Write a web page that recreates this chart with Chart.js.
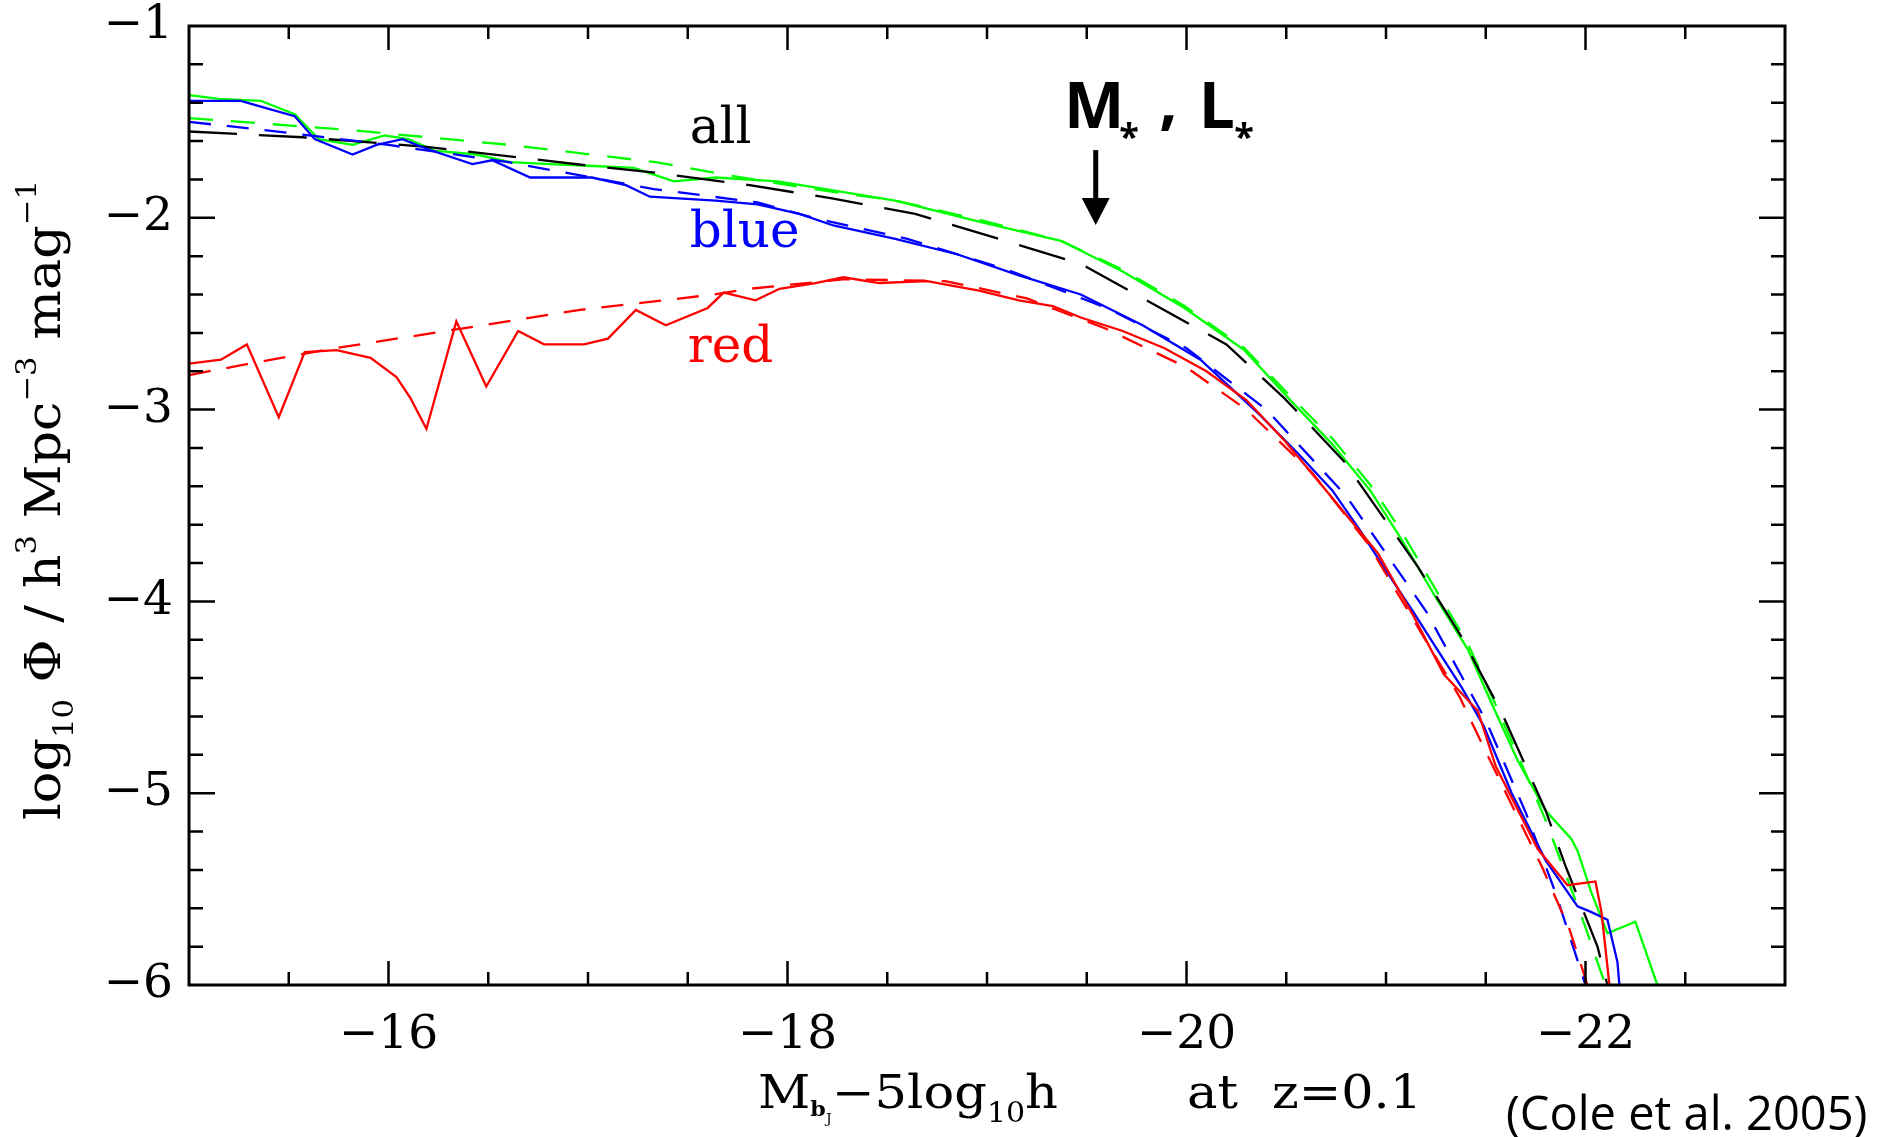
<!DOCTYPE html>
<html>
<head>
<meta charset="utf-8">
<script src="https://cdn.jsdelivr.net/npm/chart.js@4.4.1/dist/chart.umd.min.js"></script>
<style>
html,body{margin:0;padding:0;background:#fff;overflow:hidden;}
#wrap{width:1892px;height:1137px;position:relative;}
</style>
</head>
<body>
<div id="wrap"><canvas id="c"></canvas></div>
<script>
// ---------------- data ----------------
// "all" galaxies: measured LF (green solid)
const allDataX = [-15.00,-15.15,-15.36,-15.53,-15.65,-15.82,-15.98,-16.10,-16.23,-16.44,-16.61,-16.81,-17.03,-17.23,-17.43,-17.64,-17.95,-18.13,-18.54,-18.96,-19.37,-19.68,-19.99,-20.29,-20.52,-20.73,-20.92,-21.08,-21.25,-21.41,-21.52,-21.66,-21.80,-21.93,-21.96,-22.03,-22.11,-22.25,-22.36];
const allDataY = [-1.36,-1.38,-1.39,-1.46,-1.59,-1.62,-1.57,-1.59,-1.65,-1.67,-1.71,-1.72,-1.73,-1.74,-1.81,-1.79,-1.81,-1.84,-1.91,-2.02,-2.12,-2.28,-2.47,-2.69,-2.95,-3.18,-3.42,-3.68,-3.98,-4.25,-4.51,-4.83,-5.09,-5.24,-5.30,-5.52,-5.73,-5.67,-6.00];
// "all" galaxies: second estimate (green dashed)
const allAltX = [-15.00,-15.78,-16.61,-17.34,-17.71,-18.13,-18.54,-18.96,-19.37,-19.68,-19.99,-20.29,-20.52,-20.73,-20.92,-21.08,-21.25,-21.41,-21.52,-21.66,-21.80,-21.90,-22.00,-22.10];
const allAltY = [-1.48,-1.54,-1.62,-1.71,-1.78,-1.85,-1.91,-2.01,-2.12,-2.27,-2.46,-2.68,-2.93,-3.15,-3.39,-3.64,-3.94,-4.22,-4.47,-4.80,-5.14,-5.42,-5.70,-6.00];
// "all" galaxies: Schechter fit (black dashed)
const allFitX = [-15.00,-15.57,-16.19,-17.02,-17.30,-17.81,-18.23,-18.64,-19.06,-19.47,-19.80,-20.20,-20.49,-20.79,-21.16,-21.37,-21.58,-21.80,-21.90,-22.06,-22.11];
const allFitY = [-1.55,-1.58,-1.63,-1.73,-1.76,-1.83,-1.90,-1.98,-2.11,-2.24,-2.43,-2.66,-2.94,-3.27,-3.82,-4.17,-4.58,-5.09,-5.38,-5.80,-6.00];
// blue galaxies: measured (solid) and fit (dashed)
const blueDataX = [-15.00,-15.26,-15.36,-15.53,-15.63,-15.82,-15.94,-16.07,-16.19,-16.42,-16.52,-16.71,-17.02,-17.19,-17.31,-17.64,-17.85,-18.06,-18.23,-18.54,-18.85,-19.16,-19.47,-19.78,-20.07,-20.36,-20.56,-20.73,-20.87,-21.00,-21.14,-21.25,-21.38,-21.49,-21.63,-21.80,-21.96,-22.03,-22.11,-22.16,-22.17];
const blueDataY = [-1.39,-1.39,-1.42,-1.47,-1.59,-1.67,-1.62,-1.59,-1.64,-1.72,-1.70,-1.79,-1.79,-1.83,-1.89,-1.91,-1.93,-1.98,-2.04,-2.11,-2.19,-2.30,-2.40,-2.56,-2.74,-3.02,-3.23,-3.42,-3.63,-3.84,-4.06,-4.24,-4.45,-4.65,-5.00,-5.35,-5.59,-5.62,-5.66,-5.88,-6.00];
const blueFitX = [-15.00,-15.36,-16.00,-16.60,-17.33,-17.85,-18.13,-18.60,-19.10,-19.60,-20.00,-20.40,-20.80,-21.20,-21.50,-21.70,-21.85,-22.00];
const blueFitY = [-1.50,-1.54,-1.62,-1.71,-1.85,-1.92,-2.00,-2.11,-2.27,-2.47,-2.68,-3.00,-3.45,-4.05,-4.62,-5.10,-5.52,-6.00];
// red galaxies: measured (solid) and fit (dashed)
const redDataX = [-15.00,-15.16,-15.29,-15.45,-15.58,-15.74,-15.91,-16.04,-16.11,-16.19,-16.34,-16.49,-16.65,-16.78,-16.98,-17.10,-17.24,-17.39,-17.60,-17.68,-17.84,-17.96,-18.14,-18.28,-18.46,-18.70,-18.96,-19.16,-19.33,-19.47,-19.68,-19.89,-20.10,-20.30,-20.49,-20.73,-20.96,-21.14,-21.29,-21.46,-21.55,-21.76,-21.91,-22.05,-22.08,-22.12];
const redDataY = [-2.76,-2.74,-2.66,-3.04,-2.70,-2.69,-2.73,-2.83,-2.94,-3.10,-2.54,-2.88,-2.59,-2.66,-2.66,-2.63,-2.48,-2.56,-2.47,-2.39,-2.43,-2.37,-2.34,-2.31,-2.34,-2.33,-2.38,-2.43,-2.46,-2.52,-2.59,-2.68,-2.80,-2.95,-3.16,-3.46,-3.75,-4.08,-4.38,-4.57,-4.86,-5.29,-5.48,-5.46,-5.62,-6.00];
const redFitX = [-15.00,-15.33,-15.73,-16.29,-16.96,-17.30,-17.63,-17.81,-18.29,-18.79,-19.20,-19.60,-20.00,-20.30,-20.63,-20.91,-21.37,-21.48,-21.78,-21.92,-22.01];
const redFitY = [-2.82,-2.755,-2.68,-2.59,-2.48,-2.44,-2.40,-2.37,-2.32,-2.33,-2.42,-2.58,-2.78,-3.00,-3.33,-3.70,-4.50,-4.74,-5.38,-5.71,-6.00];

// axes / ticks
const xRange = [-23, -15];
const yRange = [-6, -1];
const xTickValues = [-16, -18, -20, -22];
const yTickValues = [-1, -2, -3, -4, -5, -6];
const xMinorStep = 0.5, yMinorStep = 0.2;

// annotations (data coordinates)
const seriesLabels = [
  {text: 'all',  color: '#000000', x: -17.51, y: -1.612},
  {text: 'blue', color: '#0000ff', x: -17.51, y: -2.151},
  {text: 'red',  color: '#ff0000', x: -17.50, y: -2.750}
];
const arrowX = -19.545, arrowTopY = -1.647, arrowTipY = -2.038;

// ---------------- chart ----------------
const SERIF = '"DejaVu Serif", "Liberation Serif", serif';
const pts = (xs, ys) => xs.map((v, i) => ({x: v, y: ys[i]}));
const fmt = v => (v < 0 ? '\u2212' : '') + Math.abs(v);

function line(label, xs, ys, color, dash) {
  return {label, data: pts(xs, ys), borderColor: color, backgroundColor: color,
    borderWidth: 2.3, borderDash: dash || [], showLine: true, pointRadius: 0,
    tension: 0, fill: false};
}

function drawInk(ctx, text, font, left, top) {
  ctx.font = font;
  const m = ctx.measureText(text);
  ctx.fillText(text, left + m.actualBoundingBoxLeft, top + m.actualBoundingBoxAscent);
}
function runsWidth(ctx, runs) {
  let w = 0;
  for (const r of runs) { ctx.font = r[1]; w += ctx.measureText(r[0]).width; }
  return w;
}
function drawRuns(ctx, runs, x, y) {
  for (const r of runs) {
    ctx.font = r[1];
    ctx.fillText(r[0], x, y + r[2]);
    x += ctx.measureText(r[0]).width;
  }
  return x;
}
// draw runs stretched horizontally to a target width
function fitRuns(ctx, runs, x, y, target) {
  const w = runsWidth(ctx, runs);
  ctx.save();
  ctx.translate(x, y);
  ctx.scale(target / w, 1);
  drawRuns(ctx, runs, 0, 0);
  ctx.restore();
}

const decor = {
  id: 'decor',
  afterDatasetsDraw(chart) {
    const {ctx, chartArea: a, scales: {x, y}} = chart;
    ctx.save();
    ctx.strokeStyle = '#000';
    ctx.lineWidth = 3;
    ctx.strokeRect(a.left, a.top, a.right - a.left, a.bottom - a.top);
    ctx.lineWidth = 2.5;
    ctx.beginPath();
    const nx = Math.round((xRange[1] - xRange[0]) / xMinorStep);
    for (let k = 1; k < nx; k++) {
      const v = xRange[0] + k * xMinorStep;
      const px = x.getPixelForValue(v);
      const L = Math.abs(v / 2 - Math.round(v / 2)) < 1e-6 ? 24 : 13;
      ctx.moveTo(px, a.bottom); ctx.lineTo(px, a.bottom - L);
      ctx.moveTo(px, a.top); ctx.lineTo(px, a.top + L);
    }
    const ny = Math.round((yRange[1] - yRange[0]) / yMinorStep);
    for (let k = 1; k < ny; k++) {
      const v = yRange[0] + k * yMinorStep;
      const py = y.getPixelForValue(v);
      const L = Math.abs(v - Math.round(v)) < 1e-6 ? 26 : 14;
      ctx.moveTo(a.left, py); ctx.lineTo(a.left + L, py);
      ctx.moveTo(a.right, py); ctx.lineTo(a.right - L, py);
    }
    ctx.stroke();
    ctx.restore();
  },
  afterDraw(chart) {
    const {ctx, chartArea: a, scales: {x, y}} = chart;
    ctx.save();
    ctx.textAlign = 'left';
    ctx.textBaseline = 'alphabetic';
    for (const s of seriesLabels) {
      ctx.fillStyle = s.color;
      ctx.font = '50px ' + SERIF;
      ctx.fillText(s.text, x.getPixelForValue(s.x), y.getPixelForValue(s.y));
    }
    ctx.fillStyle = '#000';
    const ax = x.getPixelForValue(arrowX);
    const at = y.getPixelForValue(arrowTopY);
    const tip = y.getPixelForValue(arrowTipY);
    const headH = 27, headW = 14;
    ctx.fillRect(ax - 2.5, at, 5, tip - headH - at + 1);
    ctx.beginPath();
    ctx.moveTo(ax - headW, tip - headH);
    ctx.lineTo(ax + headW, tip - headH);
    ctx.lineTo(ax, tip);
    ctx.closePath();
    ctx.fill();
    const big = 'bold 64px "Open Sans", "DejaVu Sans", sans-serif';
    const ast = 'bold 36px "Open Sans", "DejaVu Sans", sans-serif';
    drawInk(ctx, 'M', big, ax - 26.7, at - 68.3);
    drawInk(ctx, '*', ast, ax + 24.5, at - 28.3);
    drawInk(ctx, ',', big, ax + 64.5, at - 35);
    drawInk(ctx, 'L', big, ax + 108, at - 68.3);
    drawInk(ctx, '*', ast, ax + 139.5, at - 28.3);

    // y axis title (rotated)
    const main = '48px ' + SERIF, small = '28px ' + SERIF;
    const yRuns = [
      ['log', main, 0], ['10', small, 13], [' \u03A6 / h', main, 0], ['3', small, -24],
      [' Mpc', main, 0], ['\u22123', small, -24], [' mag', main, 0], ['\u22121', small, -24]
    ];
    ctx.save();
    ctx.translate(60, 500);
    ctx.rotate(-Math.PI / 2);
    fitRuns(ctx, yRuns, -320, 0, 640);
    ctx.restore();

    // x axis title
    const m46 = '46px ' + SERIF;
    const xRuns = [
      ['M', m46, 0], ['b', 'bold 20px ' + SERIF, 8], ['J', '13px ' + SERIF, 15],
      ['\u22125log', m46, 0], ['10', '27px ' + SERIF, 14], ['h', m46, 0]
    ];
    fitRuns(ctx, xRuns, 758, 1108, 300);
    fitRuns(ctx, [['at', m46, 0]], 1187, 1108, 51);
    fitRuns(ctx, [['z=0.1', m46, 0]], 1272, 1108, 150);

    ctx.font = '47px "Open Sans", "DejaVu Sans", sans-serif';
    ctx.fillText('(Cole et al. 2005)', 1506, 1130);
    ctx.restore();
  }
};

const zeroPad = s => { s.paddingTop = 0; s.paddingBottom = 0; s.paddingLeft = 0; s.paddingRight = 0; };

new Chart(document.getElementById('c'), {
  type: 'scatter',
  data: {
    datasets: [
      line('red fit', redFitX, redFitY, '#ff0000', [22, 16]),
      line('red', redDataX, redDataY, '#ff0000'),
      line('blue fit', blueFitX, blueFitY, '#0000ff', [22, 16]),
      line('blue', blueDataX, blueDataY, '#0000ff'),
      line('all fit', allFitX, allFitY, '#000000', [48, 22]),
      line('all alt', allAltX, allAltY, '#00ff00', [24, 18]),
      line('all', allDataX, allDataY, '#00ff00')
    ]
  },
  options: {
    responsive: true,
    maintainAspectRatio: false,
    animation: false,
    events: [],
    layout: {padding: {top: 26, right: 107, left: 0, bottom: 0}},
    plugins: {legend: {display: false}, title: {display: false}, tooltip: {enabled: false}},
    scales: {
      x: {
        type: 'linear', min: xRange[0], max: xRange[1], reverse: true,
        grid: {display: false, drawTicks: false},
        border: {display: false},
        afterBuildTicks: s => { s.ticks = xTickValues.map(v => ({value: v})); },
        afterFit: s => { s.height = 152; zeroPad(s); },
        ticks: {autoSkip: false, maxRotation: 0, padding: 27, color: '#000',
          font: {family: SERIF, size: 47, lineHeight: 1}, callback: v => fmt(v)}
      },
      y: {
        type: 'linear', min: yRange[0], max: yRange[1],
        grid: {display: false, drawTicks: false},
        border: {display: false},
        afterBuildTicks: s => { s.ticks = yTickValues.map(v => ({value: v})); },
        afterFit: s => { s.width = 189; zeroPad(s); },
        ticks: {autoSkip: false, padding: 16, color: '#000',
          font: {family: SERIF, size: 47, lineHeight: 1}, callback: v => fmt(v)}
      }
    }
  },
  plugins: [decor]
});
</script>
</body>
</html>
